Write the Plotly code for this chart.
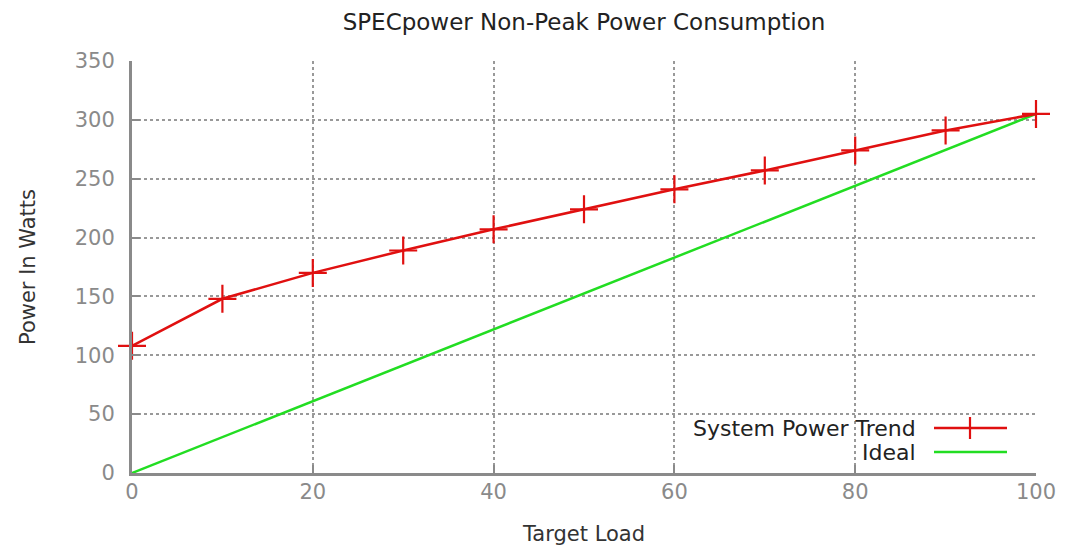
import plotly.graph_objects as go

load = [0, 10, 20, 30, 40, 50, 60, 70, 80, 90, 100]
system_power = [108, 148, 170, 189, 207, 224, 241, 257, 274, 291, 305]
ideal_x = [0, 100]
ideal_y = [0, 305]
x_ticks = [0, 20, 40, 60, 80, 100]
y_ticks = [0, 50, 100, 150, 200, 250, 300, 350]

RED = "#e01010"
GREEN = "#22dd22"
GRAY = "#8a8a8a"
FONT = "DejaVu Sans"
FS = 21
FS_BIG = 22
FS_TITLE = 23

fig = go.Figure()
fig.add_trace(go.Scatter(
    x=ideal_x, y=ideal_y, mode="lines", name="Ideal",
    line=dict(color=GREEN, width=2.5), cliponaxis=False, showlegend=False))
fig.add_trace(go.Scatter(
    x=load, y=system_power, mode="lines+markers", name="System Power Trend",
    line=dict(color=RED, width=2.5),
    marker=dict(symbol="cross-thin", size=20, line=dict(color=RED, width=2.2)),
    cliponaxis=False, showlegend=False))

axis_common = dict(
    automargin=False,
    showline=True, linecolor=GRAY, linewidth=3, mirror=False,
    ticks="inside", ticklen=8, tickwidth=2, tickcolor=GRAY,
    showgrid=True, gridcolor="#999999", griddash="dot", gridwidth=1.5,
    zeroline=False, tickfont=dict(family=FONT, size=FS, color=GRAY),
)
fig.update_xaxes(range=[0, 100], tickvals=x_ticks, ticklabelstandoff=-2,
                 title=dict(text="Target Load", font=dict(family=FONT, size=FS, color="#333"), standoff=24),
                 **axis_common)
fig.update_yaxes(range=[0, 350], tickvals=y_ticks, ticklabelstandoff=10,
                 title=dict(text="Power In Watts", font=dict(family=FONT, size=FS, color="#333"), standoff=34),
                 **axis_common)

W, H = 1080, 549
# plot area in page pixels
PL, PR, PT, PB = 132, 1036, 61, 473
ml, mr, mt, mb = PL, W - PR, PT, H - PB


def px(xp):
    return (xp - PL) / (PR - PL)


def py(yp):
    return (PB - yp) / (PB - PT)


# custom gnuplot-style legend (text left, sample right)
legend_items = [("System Power Trend", RED, 428, True), ("Ideal", GREEN, 452, False)]
for text, color, ypix, mark in legend_items:
    fig.add_annotation(x=px(918), y=py(ypix), xref="paper", yref="paper", text=text,
                       showarrow=False, xanchor="right", yanchor="middle",
                       font=dict(family=FONT, size=FS_BIG, color="#222"))
    fig.add_shape(type="line", xref="paper", yref="paper",
                  x0=px(934), x1=px(1007), y0=py(ypix), y1=py(ypix),
                  line=dict(color=color, width=2.5))
    if mark:
        fig.add_shape(type="line", xref="paper", yref="paper",
                      x0=px(970), x1=px(970), y0=py(ypix - 11), y1=py(ypix + 11),
                      line=dict(color=RED, width=2.2))

fig.update_layout(
    width=W, height=H,
    margin=dict(l=ml, r=mr, t=mt, b=mb, autoexpand=False),
    plot_bgcolor="white", paper_bgcolor="white",
    title=dict(text="SPECpower Non-Peak Power Consumption",
               x=((PL + PR) / 2) / W, xanchor="center",
               y=1 - 22 / H, yanchor="middle",
               font=dict(family=FONT, size=FS_TITLE, color="#222")),
    showlegend=False,
)

fig.write_html("out.html", config={"displayModeBar": False},
               post_script="document.body.style.margin='0';document.body.style.overflow='hidden';")
